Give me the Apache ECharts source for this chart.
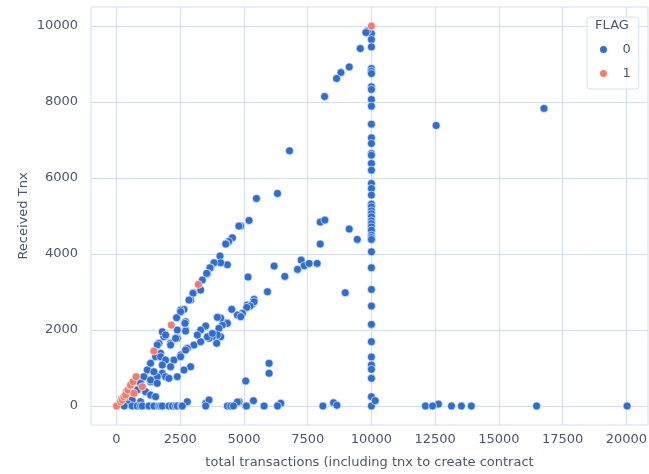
<!DOCTYPE html>
<html>
<head>
<meta charset="utf-8">
<title>Received Tnx vs total transactions</title>
<script src="https://cdn.jsdelivr.net/npm/echarts@6.0.0/dist/echarts.min.js"></script>
<style>
  html, body { margin: 0; padding: 0; background: #fff; }
  #chart { width: 649px; height: 474px; }
</style>
</head>
<body>
<div id="chart"></div>
<script>
// [total transactions, received tnx] for FLAG = 0
const flag0Points = [
  // column at 10000
  [10000, 9800], [10000, 9643], [10000, 9450], [10000, 8880], [10000, 8810], [10000, 8750],
  [10000, 8400], [10000, 8330], [10000, 8066], [10000, 7890], [10000, 7417], [10000, 7057],
  [10000, 6908], [10000, 6645], [10000, 6600], [10000, 6382], [10000, 6207], [10000, 5857],
  [10000, 5725], [10000, 5550], [10000, 5313], [10000, 5242], [10000, 5137], [10000, 5060],
  [10000, 4979], [10000, 4873], [10000, 4800], [10000, 4716], [10000, 4628], [10000, 4497],
  [10000, 4436], [10000, 4383], [10000, 4058], [10000, 3638], [10000, 3068], [10000, 2630],
  [10000, 2148], [10000, 1691], [10000, 1290], [10000, 1078], [10000, 964], [10000, 727],
  [10000, 245], [10000, 0], [10150, 140],
  // upper diagonal
  [9850, 9870], [9785, 9827], [9563, 9407], [9130, 8924], [8803, 8776], [8634, 8618],
  [8163, 8145], [6787, 6714], [6315, 5594], [5490, 5462], [5200, 4884], [4873, 4734],
  [4800, 4734], [4547, 4426], [4400, 4330], [4296, 4279], [4284, 4261], [4060, 3945],
  [4350, 3716], [4087, 3769], [3824, 3769], [3694, 3637], [3667, 3637], [3564, 3490],
  [3537, 3490], [3368, 3314], [3301, 3051], [3014, 2980], [3000, 2964], [2908, 2788],
  [2843, 2788], [2646, 2543], [2515, 2525], [2515, 2480], [2358, 2323], [1926, 1841],
  [1860, 1822], [1795, 1954], [1663, 1649], [1598, 1604],
  // far right
  [12540, 7382], [16770, 7830],
  // middle band
  [7990, 4839], [8174, 4892], [9130, 4655], [9445, 4384], [7990, 4261], [7244, 3840],
  [7361, 3690], [7558, 3752], [7872, 3752], [7101, 3595], [6183, 3682], [6602, 3411],
  [5160, 3393], [5922, 3006], [5397, 2806], [8973, 2980],
  // second line
  [5136, 2656], [5333, 2683], [5397, 2743], [5240, 2630], [5109, 2595], [4940, 2438],
  [4806, 2393], [4743, 2393], [4873, 2350], [4520, 2543], [4323, 2191], [4350, 2175],
  [4153, 2130], [4087, 2314], [3957, 2333], [4020, 2043], [4087, 1822], [3930, 1649],
  [3957, 1867], [3761, 1822], [3629, 1780], [3498, 2104], [3301, 1999], [3038, 1604],
  [2777, 1517], [2515, 1341], [2253, 1210], [2122, 1034], [1795, 860], [1598, 771],
  [1336, 640], [3564, 1822], [3761, 1910], [3301, 1691], [3170, 1867], [2712, 1999],
  [2385, 1999], [2712, 1473], [2515, 1297], [2908, 1034], [2645, 947], [2385, 771],
  [2712, 2217], [2712, 1972], [2358, 1796], [2686, 2175], [2385, 1780], [2122, 1649],
  [1729, 1386], [1926, 1867], [2319, 1780], [2122, 1604], [1533, 1297], [1729, 1297],
  [1926, 1210], [1795, 1078], [1336, 1123], [1205, 947], [1467, 903], [1074, 771],
  [1336, 684], [1598, 596], [1926, 771], [2057, 727], [943, 596], [812, 421],
  [1139, 377], [1336, 289], [1533, 245], [616, 158], [943, 113],
  [200, 180], [400, 380], [350, 100], [450, 50],
  // low values
  [5986, 1123], [5986, 860], [5070, 658], [4806, 113], [5372, 140], [6340, 26],
  [6445, 71], [8516, 87], [8646, 18], [3498, 70], [3629, 158], [2777, 113], [4743, 105],
  [12630, 50],
  // near zero received
  [300, 0], [616, 0], [812, 0], [943, 0], [1010, 0], [1270, 0], [1467, 0], [1663, 0],
  [1729, 0], [1795, 0], [2057, 0], [2188, 0], [2319, 0], [2385, 0], [2541, 0],
  [2582, 0], [3498, 0], [4350, 0], [4480, 0], [4586, 0], [5070, 0], [5097, 0],
  [5789, 0], [6315, 0], [8096, 0], [12120, 0], [12400, 0], [13140, 0], [13530, 0],
  [13920, 0], [16480, 0], [20030, 0]
];

// FLAG = 1
const flag1Points = [
  [0, 0], [157, 113], [223, 158], [287, 245], [354, 289], [450, 420], [550, 526],
  [550, 552], [650, 640], [681, 334], [770, 770], [1010, 508], [1467, 1446],
  [2150, 2130], [3210, 3200], [10000, 10000]
];

const xTicks = [0, 2500, 5000, 7500, 10000, 12500, 15000, 17500, 20000];
const yTicks = [0, 2000, 4000, 6000, 8000, 10000];
const legendNames = ['0', '1'];

const textColor = '#4a5670';
const gridColor = '#d3def5';
const fontFamily = 'DejaVu Sans';

const chart = echarts.init(document.getElementById('chart'));

chart.setOption({
  animation: false,
  textStyle: { fontFamily: fontFamily },
  grid: {
    left: 91,
    right: 1,
    top: 7,
    bottom: 49,
    show: true,
    borderColor: gridColor,
    borderWidth: 1,
    outerBoundsMode: 'none'
  },
  xAxis: {
    type: 'value',
    min: -1000,
    max: 20850,
    name: 'total transactions (including tnx to create contract',
    nameLocation: 'middle',
    nameGap: 31,
    nameMoveOverlap: false,
    nameTextStyle: { color: textColor, fontSize: 13, fontFamily: fontFamily },
    axisLine: { show: false },
    axisTick: { show: false, customValues: xTicks },
    axisLabel: {
      customValues: xTicks,
      formatter: v => String(v),
      color: textColor, fontSize: 13, margin: 8, fontFamily: fontFamily
    },
    splitLine: { show: true, lineStyle: { color: gridColor, width: 1 } }
  },
  yAxis: {
    type: 'value',
    min: -500,
    max: 10500,
    name: 'Received Tnx',
    nameLocation: 'middle',
    nameGap: 61,
    nameMoveOverlap: false,
    nameTextStyle: { color: textColor, fontSize: 13, fontFamily: fontFamily },
    axisLine: { show: false },
    axisTick: { show: false, customValues: yTicks },
    axisLabel: {
      customValues: yTicks,
      formatter: v => String(v),
      color: textColor, fontSize: 13, margin: 13, fontFamily: fontFamily
    },
    splitLine: { show: true, lineStyle: { color: gridColor, width: 1 } }
  },
  legend: {
    data: legendNames,
    orient: 'vertical',
    left: 587,
    top: 17,
    padding: [26, 8, 9, 11],
    itemWidth: 20,
    itemHeight: 9,
    itemGap: 11,
    icon: 'circle',
    borderColor: '#d6dff0',
    borderWidth: 1,
    borderRadius: 3,
    backgroundColor: 'rgba(255,255,255,0.85)',
    textStyle: { color: textColor, fontSize: 13, padding: [0, 0, 0, 4], fontFamily: fontFamily }
  },
  graphic: [{
    type: 'text',
    z: 100,
    style: {
      x: 612,
      y: 26,
      text: 'FLAG',
      textAlign: 'center',
      textVerticalAlign: 'middle',
      fill: textColor,
      font: '13px "DejaVu Sans"'
    }
  }],
  series: [
    {
      name: '0',
      type: 'scatter',
      data: flag0Points,
      symbolSize: 8,
      itemStyle: { color: '#2c6dd8', borderColor: '#fff', borderWidth: 0.6, opacity: 1 }
    },
    {
      name: '1',
      type: 'scatter',
      data: flag1Points,
      symbolSize: 8,
      itemStyle: { color: '#ee7d6c', borderColor: '#fff', borderWidth: 0.6, opacity: 1 }
    }
  ]
});
</script>
</body>
</html>
